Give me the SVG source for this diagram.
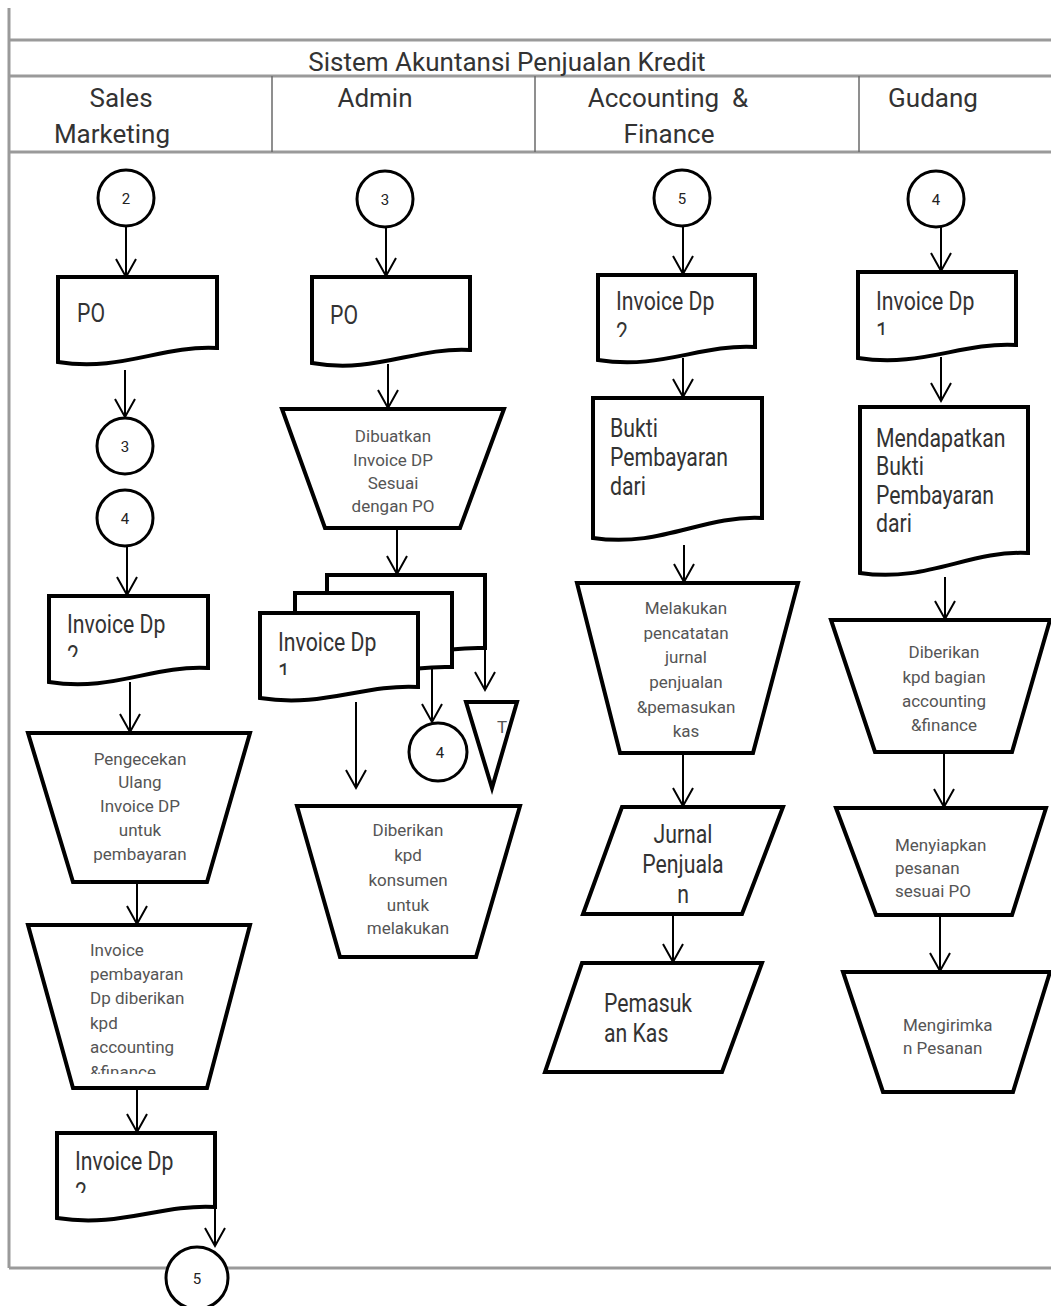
<svg xmlns="http://www.w3.org/2000/svg" width="1051" height="1306" viewBox="0 0 1051 1306">
<style>
.frame{stroke:#9a9a9a;stroke-width:3;fill:none}
.div{stroke:#6a6a6a;stroke-width:1.5;fill:none}
.shape{fill:#fff;stroke:#000;stroke-width:4;stroke-linejoin:miter}
.circ{fill:#fff;stroke:#000;stroke-width:3}
.conn{stroke:#000;stroke-width:2;fill:none;marker-end:url(#arr)}
text{font-family:Roboto,"Liberation Sans",sans-serif}
.hdr{font-size:26px;fill:#333}
.big{font-size:25px;fill:#333}
.small{font-size:17px;fill:#555}
.num{font-size:15px;fill:#222;text-anchor:middle}
.mid{text-anchor:middle}
</style>
<defs>
<marker id="arr" markerUnits="userSpaceOnUse" markerWidth="22" markerHeight="22" viewBox="0 0 22 22" refX="19" refY="11" orient="auto">
<path d="M1,1 L19,11 L1,21" fill="none" stroke="#000" stroke-width="2"/>
</marker>
<clipPath id="cSI1"><rect x="49" y="596" width="159" height="61"/></clipPath>
<clipPath id="cSI2"><rect x="57" y="1133" width="158" height="60"/></clipPath>
<clipPath id="cAI"><rect x="260" y="613" width="158" height="62"/></clipPath>
<clipPath id="cCI"><rect x="598" y="275" width="157" height="62"/></clipPath>
<clipPath id="cGI"><rect x="858" y="272" width="158" height="63"/></clipPath>
<clipPath id="cST2"><rect x="28" y="925" width="222" height="149"/></clipPath>
</defs>

<g id="frame">
<line class="frame" x1="9" y1="8" x2="9" y2="1268"/>
<line class="frame" x1="9" y1="40" x2="1051" y2="40"/>
<line class="frame" x1="9" y1="76" x2="1051" y2="76"/>
<line class="frame" x1="9" y1="152" x2="1051" y2="152"/>
<line class="frame" x1="9" y1="1268" x2="1051" y2="1268"/>
<line class="div" x1="272" y1="76" x2="272" y2="152"/>
<line class="div" x1="535" y1="76" x2="535" y2="152"/>
<line class="div" x1="859" y1="76" x2="859" y2="152"/>
<text class="hdr mid" x="507" y="71" font-size="25.5">Sistem Akuntansi Penjualan Kredit</text>
<text class="hdr mid" x="121" y="107">Sales</text>
<text class="hdr mid" x="112" y="143">Marketing</text>
<text class="hdr mid" x="375" y="107">Admin</text>
<text class="hdr mid" x="668" y="107">Accounting &#160;&amp;</text>
<text class="hdr mid" x="669" y="143">Finance</text>
<text class="hdr mid" x="933" y="107">Gudang</text>
</g>

<g id="connectors">
<line class="conn" x1="126" y1="227" x2="126" y2="277"/>
<line class="conn" x1="125" y1="370" x2="125" y2="417"/>
<line class="conn" x1="127" y1="546" x2="127" y2="595"/>
<line class="conn" x1="130" y1="682" x2="130" y2="732"/>
<line class="conn" x1="137" y1="882" x2="137" y2="924"/>
<line class="conn" x1="137" y1="1088" x2="137" y2="1132"/>
<line class="conn" x1="215" y1="1207" x2="215" y2="1246"/>

<line class="conn" x1="386" y1="227" x2="386" y2="276"/>
<line class="conn" x1="388" y1="364" x2="388" y2="408"/>
<line class="conn" x1="397" y1="528" x2="397" y2="574"/>
<line class="conn" x1="356" y1="702" x2="356" y2="788"/>
<line class="conn" x1="432" y1="667" x2="432" y2="722"/>
<line class="conn" x1="485" y1="648" x2="485" y2="690"/>

<line class="conn" x1="683" y1="226" x2="683" y2="274"/>
<line class="conn" x1="683" y1="358" x2="683" y2="397"/>
<line class="conn" x1="684" y1="545" x2="684" y2="582"/>
<line class="conn" x1="683" y1="753" x2="683" y2="806"/>
<line class="conn" x1="673" y1="914" x2="673" y2="962"/>

<line class="conn" x1="941" y1="227" x2="941" y2="271"/>
<line class="conn" x1="941" y1="357" x2="941" y2="401"/>
<line class="conn" x1="945" y1="577" x2="945" y2="619"/>
<line class="conn" x1="944" y1="752" x2="944" y2="807"/>
<line class="conn" x1="940" y1="915" x2="940" y2="971"/>
</g>

<g id="sales-c2"><circle class="circ" cx="126" cy="198" r="28"/><text class="num" x="126" y="204">2</text></g>
<g id="sales-po">
<path class="shape" d="M58,277 H217 V348 C161,345 122,372 58,362 Z"/>
<text class="big" transform="translate(77 322) scale(0.85 1)">PO</text>
</g>
<g id="sales-c3"><circle class="circ" cx="125" cy="446" r="28"/><text class="num" x="125" y="452">3</text></g>
<g id="sales-c4"><circle class="circ" cx="125" cy="518" r="28"/><text class="num" x="125" y="524">4</text></g>
<g id="sales-inv1">
<path class="shape" d="M49,596 H208 V668 C152,665 113,692 49,682 Z"/>
<g clip-path="url(#cSI1)"><text class="big" transform="translate(67 633) scale(0.85 1)"><tspan x="0">Invoice Dp</tspan><tspan x="0" dy="31">2</tspan></text></g>
</g>
<g id="sales-check">
<path class="shape" d="M28,733 H250 L207,882 H73 Z"/>
<text class="small mid" x="140"><tspan x="140" y="765">Pengecekan</tspan><tspan x="140" y="788">Ulang</tspan><tspan x="140" y="812">Invoice DP</tspan><tspan x="140" y="836">untuk</tspan><tspan x="140" y="860">pembayaran</tspan></text>
</g>
<g id="sales-give">
<path class="shape" d="M28,925 H250 L207,1088 H73 Z"/>
<g clip-path="url(#cST2)"><text class="small"><tspan x="90" y="956">Invoice</tspan><tspan x="90" y="980">pembayaran</tspan><tspan x="90" y="1004">Dp diberikan</tspan><tspan x="90" y="1029">kpd</tspan><tspan x="90" y="1053">accounting</tspan><tspan x="90" y="1078">&amp;finance</tspan></text></g>
</g>
<g id="sales-inv2">
<path class="shape" d="M57,1133 H215 V1207 C160,1204 120,1228 57,1218 Z"/>
<g clip-path="url(#cSI2)"><text class="big" transform="translate(75 1170) scale(0.85 1)"><tspan x="0">Invoice Dp</tspan><tspan x="0" dy="31">2</tspan></text></g>
</g>
<g id="sales-c5"><circle class="circ" cx="197" cy="1278" r="31"/><text class="num" x="197" y="1284">5</text></g>

<g id="admin-c3"><circle class="circ" cx="385" cy="199" r="28"/><text class="num" x="385" y="205">3</text></g>
<g id="admin-po">
<path class="shape" d="M312,277 H470 V350 C415,347 375,374 312,363 Z"/>
<text class="big" transform="translate(330 324) scale(0.85 1)">PO</text>
</g>
<g id="admin-make">
<path class="shape" d="M282,409 H504 L460,528 H325 Z"/>
<text class="small mid"><tspan x="393" y="442">Dibuatkan</tspan><tspan x="393" y="466">Invoice DP</tspan><tspan x="393" y="489">Sesuai</tspan><tspan x="393" y="512">dengan PO</tspan></text>
</g>
<g id="admin-invoices">
<path class="shape" d="M327,575 H485 V648 C430,646 390,668 327,659 Z"/>
<path class="shape" d="M295,593 H452 V667 C397,665 357,687 295,678 Z"/>
<path class="shape" d="M260,613 H418 V687 C363,684 323,708 260,698 Z"/>
<g clip-path="url(#cAI)"><text class="big" transform="translate(278 651) scale(0.85 1)"><tspan x="0">Invoice Dp</tspan><tspan x="0" dy="31">1</tspan></text></g>
</g>
<g id="admin-c4"><circle class="circ" cx="438" cy="752" r="29"/><text class="num" x="440" y="758">4</text></g>
<g id="admin-file">
<path class="shape" d="M466,702 H517 L492,788 Z"/>
<text class="small" x="497" y="733">T</text>
</g>
<g id="admin-give">
<path class="shape" d="M297,806 H520 L476,957 H340 Z"/>
<text class="small mid"><tspan x="408" y="836">Diberikan</tspan><tspan x="408" y="861">kpd</tspan><tspan x="408" y="886">konsumen</tspan><tspan x="408" y="911">untuk</tspan><tspan x="408" y="934">melakukan</tspan></text>
</g>

<g id="acc-c5"><circle class="circ" cx="682" cy="198" r="28"/><text class="num" x="682" y="204">5</text></g>
<g id="acc-inv">
<path class="shape" d="M598,275 H755 V347 C700,344 661,370 598,360 Z"/>
<g clip-path="url(#cCI)"><text class="big" transform="translate(616 310) scale(0.85 1)"><tspan x="0">Invoice Dp</tspan><tspan x="0" dy="31">2</tspan></text></g>
</g>
<g id="acc-bukti">
<path class="shape" d="M593,398 H762 V518 C703,515 661,548 593,538 Z"/>
<text class="big" transform="translate(610 437) scale(0.85 1)"><tspan x="0">Bukti</tspan><tspan x="0" dy="29">Pembayaran</tspan><tspan x="0" dy="29">dari</tspan></text>
</g>
<g id="acc-record">
<path class="shape" d="M577,583 H798 L753,753 H620 Z"/>
<text class="small mid"><tspan x="686" y="614">Melakukan</tspan><tspan x="686" y="639">pencatatan</tspan><tspan x="686" y="663">jurnal</tspan><tspan x="686" y="688">penjualan</tspan><tspan x="686" y="713">&amp;pemasukan</tspan><tspan x="686" y="737">kas</tspan></text>
</g>
<g id="acc-jurnal">
<path class="shape" d="M622,807 H783 L742,914 H583 Z"/>
<text class="big mid" transform="translate(683 843) scale(0.85 1)"><tspan x="0">Jurnal</tspan><tspan x="0" dy="30">Penjuala</tspan><tspan x="0" dy="30">n</tspan></text>
</g>
<g id="acc-kas">
<path class="shape" d="M582,963 H762 L722,1072 H545 Z"/>
<text class="big" transform="translate(604 1012) scale(0.85 1)"><tspan x="0">Pemasuk</tspan><tspan x="0" dy="30">an Kas</tspan></text>
</g>

<g id="gud-c4"><circle class="circ" cx="936" cy="199" r="28"/><text class="num" x="936" y="205">4</text></g>
<g id="gud-inv">
<path class="shape" d="M858,272 H1016 V345 C961,342 921,368 858,358 Z"/>
<g clip-path="url(#cGI)"><text class="big" transform="translate(876 310) scale(0.85 1)"><tspan x="0">Invoice Dp</tspan><tspan x="0" dy="31">1</tspan></text></g>
</g>
<g id="gud-bukti">
<path class="shape" d="M860,407 H1028 V553 C969,550 927,583 860,573 Z"/>
<text class="big" transform="translate(876 447) scale(0.85 1)"><tspan x="0">Mendapatkan</tspan><tspan x="0" dy="28.5">Bukti</tspan><tspan x="0" dy="28.5">Pembayaran</tspan><tspan x="0" dy="28.5">dari</tspan></text>
</g>
<g id="gud-give">
<path class="shape" d="M831,620 H1050 L1012,752 H875 Z"/>
<text class="small mid"><tspan x="944" y="658">Diberikan</tspan><tspan x="944" y="683">kpd bagian</tspan><tspan x="944" y="707">accounting</tspan><tspan x="944" y="731">&amp;finance</tspan></text>
</g>
<g id="gud-prep">
<path class="shape" d="M836,808 H1046 L1012,915 H876 Z"/>
<text class="small"><tspan x="895" y="851">Menyiapkan</tspan><tspan x="895" y="874">pesanan</tspan><tspan x="895" y="897">sesuai PO</tspan></text>
</g>
<g id="gud-send">
<path class="shape" d="M843,972 H1050 L1013,1092 H883 Z"/>
<text class="small"><tspan x="903" y="1031">Mengirimka</tspan><tspan x="903" y="1054">n Pesanan</tspan></text>
</g>
</svg>
